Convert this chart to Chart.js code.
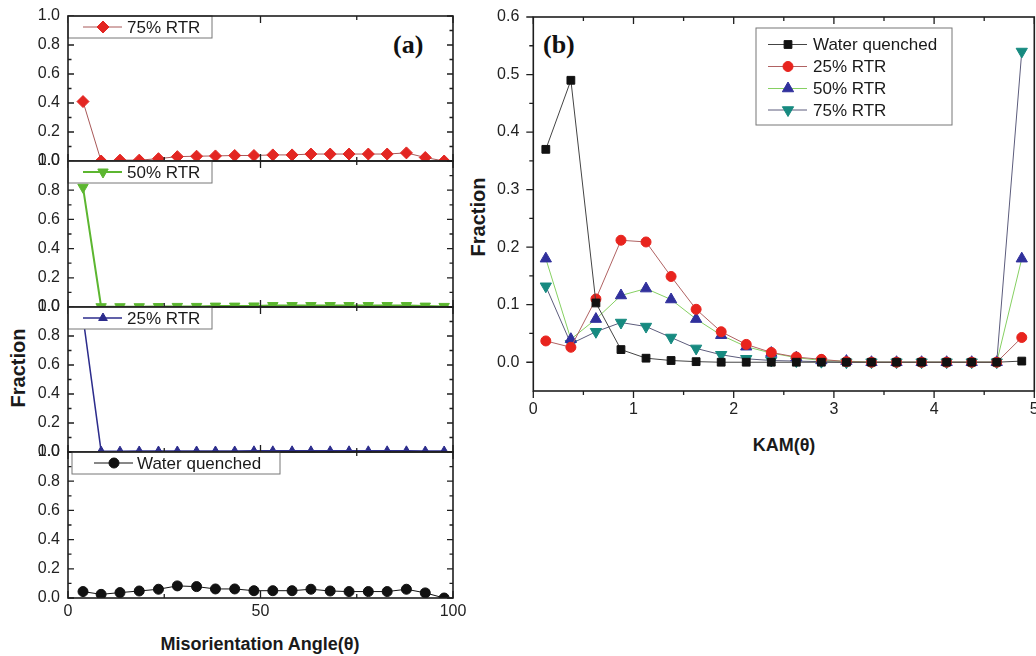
<!DOCTYPE html>
<html><head><meta charset="utf-8">
<script src="https://cdn.jsdelivr.net/npm/chart.js@4.4.1/dist/chart.umd.min.js"></script>
<style>
html,body{margin:0;padding:0;background:#fff;width:1036px;height:656px;overflow:hidden;position:relative;font-family:"Liberation Sans",Arial,sans-serif}
canvas{position:absolute}
.t{position:absolute;white-space:nowrap;color:#1a1a1a;font-weight:bold;transform:translate(-50%,-50%);line-height:1}
.r{transform:translate(-50%,-50%) rotate(-90deg)}
.p{position:absolute;white-space:nowrap;color:#111;font-weight:bold;font-family:"Liberation Serif","Times New Roman",serif;font-size:26px;line-height:1;transform:translateY(-50%)}
</style></head><body>
<div class="t r" style="left:18px;top:368px;font-size:20px">Fraction</div>
<div class="t" style="left:260px;top:644px;font-size:18px">Misorientation Angle(θ)</div>
<div class="t r" style="left:478px;top:217px;font-size:20px">Fraction</div>
<div class="t" style="left:784px;top:445px;font-size:18px">KAM(θ)</div>
<div class="p" style="left:393px;top:45px">(a)</div>
<div class="p" style="left:543px;top:45px">(b)</div>
<script>
// ---------------- DATA ----------------
// Panel (a): misorientation angle distribution
const misoAngle = [3.9, 8.6, 13.5, 18.5, 23.5, 28.4, 33.4, 38.3, 43.3, 48.3, 53.2, 58.2, 63.1, 68.1, 73.0, 78.0, 82.9, 87.9, 92.8, 97.7];
const misoRTR75 = [0.41, 0.0, 0.006, 0.006, 0.016, 0.03, 0.033, 0.035, 0.038, 0.038, 0.042, 0.042, 0.048, 0.048, 0.048, 0.048, 0.048, 0.056, 0.024, 0.0];
const misoRTR50 = [0.82, 0.002, 0.002, 0.002, 0.003, 0.004, 0.004, 0.006, 0.006, 0.007, 0.01, 0.01, 0.01, 0.01, 0.01, 0.01, 0.01, 0.01, 0.006, 0.004];
const misoRTR25 = [0.93, 0.006, 0.006, 0.007, 0.007, 0.007, 0.007, 0.007, 0.007, 0.008, 0.008, 0.008, 0.008, 0.008, 0.008, 0.008, 0.008, 0.008, 0.007, 0.007];
const misoWQ    = [0.044, 0.025, 0.037, 0.048, 0.06, 0.083, 0.078, 0.062, 0.062, 0.05, 0.05, 0.05, 0.06, 0.048, 0.044, 0.044, 0.044, 0.06, 0.035, 0.0];
const misoXTicks = [0, 50, 100];
const misoYTicks = [0, 0.2, 0.4, 0.6, 0.8, 1.0];
const misoLabels = ['75% RTR', '50% RTR', '25% RTR', 'Water quenched'];

// Panel (b): KAM distribution
const kam      = [0.125, 0.375, 0.625, 0.875, 1.125, 1.375, 1.625, 1.875, 2.125, 2.375, 2.625, 2.875, 3.125, 3.375, 3.625, 3.875, 4.125, 4.375, 4.625, 4.875];
const kamWQ    = [0.37, 0.49, 0.103, 0.022, 0.007, 0.003, 0.001, 0, 0, 0, 0, 0, 0, 0, 0, 0, 0, 0, 0, 0.002];
const kamRTR25 = [0.037, 0.026, 0.11, 0.212, 0.209, 0.149, 0.092, 0.053, 0.031, 0.017, 0.009, 0.005, 0.001, 0, 0, 0, 0, 0, 0, 0.043];
const kamRTR50 = [0.18, 0.04, 0.075, 0.116, 0.128, 0.109, 0.075, 0.047, 0.027, 0.016, 0.008, 0.003, 0.002, 0, 0, 0, 0, 0, 0, 0.18];
const kamRTR75 = [0.132, 0.032, 0.053, 0.069, 0.062, 0.043, 0.024, 0.013, 0.006, 0.003, 0.002, 0.001, 0, 0, 0, 0, 0, 0, 0, 0.54];
const kamXTicks = [0, 1, 2, 3, 4, 5];
const kamYTicks = [0, 0.1, 0.2, 0.3, 0.4, 0.5, 0.6];
const kamLabels = ['Water quenched', '25% RTR', '50% RTR', '75% RTR'];

// ---------------- HELPERS ----------------
const FONT = '"Liberation Sans", Arial, sans-serif';
Chart.defaults.font.family = FONT;
Chart.defaults.color = '#222';

const pts = (xs, ys) => xs.map((x, i) => ({x: x, y: ys[i]}));

// tick marks (major + minor), drawn right after the datasets
const tickMarks = {
  id: 'tickMarks',
  afterDatasetsDraw(chart, args, o) {
    const ctx = chart.ctx, a = chart.chartArea;
    const xs = chart.scales.x, ys = chart.scales.y;
    const mids = v => v.slice(1).map((t, i) => (t + v[i]) / 2);
    ctx.save();
    ctx.strokeStyle = '#1e1e1e';
    ctx.lineWidth = 1.3;
    ctx.beginPath();
    Object.keys(o.sides).forEach(side => {
      const s = o.sides[side];
      const horiz = side === 'top' || side === 'bottom';
      const vals = horiz ? o.xTicks : o.yTicks;
      const sc = horiz ? xs : ys;
      const all = vals.map(v => [v, s.major]).concat(mids(vals).map(v => [v, s.minor]));
      all.forEach(([v, len]) => {
        const p = sc.getPixelForValue(v);
        const L = len * s.dir;
        if (side === 'left') { ctx.moveTo(a.left, p); ctx.lineTo(a.left + L, p); }
        if (side === 'right') { ctx.moveTo(a.right, p); ctx.lineTo(a.right - L, p); }
        if (side === 'top') { ctx.moveTo(p, a.top); ctx.lineTo(p, a.top + L); }
        if (side === 'bottom') { ctx.moveTo(p, a.bottom); ctx.lineTo(p, a.bottom - L); }
      });
    });
    ctx.stroke();
    ctx.restore();
  }
};

// plot frame, drawn last
const frameBox = {
  id: 'frameBox',
  afterDraw(chart) {
    const ctx = chart.ctx, a = chart.chartArea;
    ctx.save();
    ctx.strokeStyle = '#1e1e1e';
    ctx.lineWidth = 1.6;
    ctx.strokeRect(a.left, a.top, a.right - a.left, a.bottom - a.top);
    ctx.restore();
  }
};

const boxLegend = {
  id: 'boxLegend',
  afterDraw(chart, args, o) {
    if (!o || !o.items) return;
    const ctx = chart.ctx;
    ctx.save();
    ctx.translate(-o.off[0], -o.off[1]);
    ctx.fillStyle = '#fff';
    ctx.fillRect(o.x, o.y, o.w, o.h);
    ctx.strokeStyle = '#777';
    ctx.lineWidth = 1;
    ctx.strokeRect(o.x, o.y, o.w, o.h);
    ctx.font = '17px ' + FONT;
    ctx.textBaseline = 'middle';
    o.items.forEach((dsIndex, k) => {
      const ds = chart.data.datasets[dsIndex];
      const y = o.rowY[k];
      ctx.strokeStyle = ds.borderColor;
      ctx.lineWidth = ds.borderWidth;
      ctx.beginPath(); ctx.moveTo(o.lineX0, y); ctx.lineTo(o.lineX1, y); ctx.stroke();
      ctx.fillStyle = ds.pointBackgroundColor;
      ctx.strokeStyle = ds.pointBorderColor;
      ctx.lineWidth = 1;
      Chart.helpers.drawPoint(ctx, {pointStyle: ds.pointStyle, radius: ds.pointRadius, rotation: ds.pointRotation || 0, borderWidth: 1}, o.markX, y);
      ctx.fillStyle = '#1a1a1a';
      ctx.fillText(ds.label, o.textX, y + 1);
    });
    ctx.restore();
  }
};

function makeCanvas(left, top, w, h) {
  const c = document.createElement('canvas');
  c.width = w; c.height = h;
  c.style.left = left + 'px'; c.style.top = top + 'px';
  c.style.width = w + 'px'; c.style.height = h + 'px';
  document.body.appendChild(c);
  return c;
}

// ---------------- PANEL (a) ----------------
const leftSeries = [misoRTR75, misoRTR50, misoRTR25, misoWQ];
const leftStyle = [
  {ps: 'rectRot', rot: 0, r: 6, mc: '#e32622', lc: '#a85858', lw: 1},
  {ps: 'triangle', rot: 180, r: 6, mc: '#5cb630', lc: '#5cb630', lw: 2},
  {ps: 'triangle', rot: 0, r: 5, mc: '#2c2c8c', lc: '#2c2c8c', lw: 1.5},
  {ps: 'circle', rot: 0, r: 5, mc: '#111', lc: '#111', lw: 1}
];
const leftTops = [16, 161, 307, 452, 598];
const leftLegend = [
  {x: 68, y: 16, w: 144, h: 22, lineX0: 83, lineX1: 122, markX: 103, textX: 127},
  {x: 68, y: 161, w: 144, h: 22, lineX0: 83, lineX1: 122, markX: 103, textX: 127},
  {x: 68, y: 307, w: 144, h: 22, lineX0: 83, lineX1: 122, markX: 103, textX: 127},
  {x: 72, y: 452, w: 208, h: 22, lineX0: 94, lineX1: 133, markX: 114, textX: 137}
];

leftSeries.forEach((ser, i) => {
  const st = leftStyle[i];
  const bottom = i === 3;
  const T = leftTops[i], H = leftTops[i + 1] - T;
  const padT = 20;
  const ch = bottom ? H + padT + 42 : H + 2 * padT;
  const oy = T - padT;
  const canvas = makeCanvas(0, oy, 480, ch);
  const lg = leftLegend[i];
  new Chart(canvas, {
    type: 'line',
    data: {datasets: [{
      label: misoLabels[i], data: pts(misoAngle, ser),
      borderColor: st.lc, borderWidth: st.lw,
      pointStyle: st.ps, pointRotation: st.rot, pointRadius: st.r,
      pointBackgroundColor: st.mc, pointBorderColor: st.mc, pointBorderWidth: 1,
      tension: 0, clip: 0
    }]},
    options: {
      responsive: false, animation: false, devicePixelRatio: 1,
      layout: {padding: {left: 0, right: 27, top: padT, bottom: bottom ? 12 : padT}},
      plugins: {
        legend: {display: false}, tooltip: {enabled: false},
        tickMarks: {xTicks: misoXTicks, yTicks: misoYTicks, sides: {
          left: {major: 6, minor: 3.5, dir: 1}, right: {major: 6, minor: 3.5, dir: 1},
          top: {major: 7, minor: 4, dir: 1}, bottom: {major: 7, minor: 4, dir: 1}}},
        boxLegend: Object.assign({off: [0, oy], items: [0], rowY: [lg.y + lg.h / 2]}, lg)
      },
      scales: {
        x: {type: 'linear', min: 0, max: 100, display: bottom,
          afterBuildTicks: s => { s.ticks = misoXTicks.map(v => ({value: v})); },
          afterFit: s => { s.height = bottom ? 30 : 0; },
          grid: {display: false, drawTicks: false}, border: {display: false},
          ticks: {font: {size: 16}, color: '#222', padding: 4, maxRotation: 0, autoSkip: false}},
        y: {type: 'linear', min: 0, max: 1,
          afterBuildTicks: s => { s.ticks = misoYTicks.map(v => ({value: v})); },
          afterFit: s => { s.width = 68; },
          grid: {display: false, drawTicks: false}, border: {display: false},
          ticks: {font: {size: 16}, color: '#222', padding: 8, autoSkip: false, callback: v => Number(v).toFixed(1)}}
      }
    },
    plugins: [tickMarks, boxLegend, frameBox]
  });
});

// ---------------- PANEL (b) ----------------
const rightSeries = [kamWQ, kamRTR25, kamRTR50, kamRTR75];
const rightStyle = [
  {ps: 'rect', rot: 0, r: 5.5, mc: '#111', lc: '#444', lw: 1},
  {ps: 'circle', rot: 0, r: 5, mc: '#e8241e', lc: '#b06262', lw: 1},
  {ps: 'triangle', rot: 0, r: 6.5, mc: '#30309c', lc: '#86d062', lw: 1},
  {ps: 'triangle', rot: 180, r: 6.5, mc: '#178a80', lc: '#5c5c7c', lw: 1}
];
const rOy = -13;
const rc = makeCanvas(470, rOy, 600, 443);
new Chart(rc, {
  type: 'line',
  data: {datasets: rightSeries.map((ser, i) => ({
    label: kamLabels[i], data: pts(kam, ser),
    borderColor: rightStyle[i].lc, borderWidth: rightStyle[i].lw,
    pointStyle: rightStyle[i].ps, pointRotation: rightStyle[i].rot, pointRadius: rightStyle[i].r,
    pointBackgroundColor: rightStyle[i].mc, pointBorderColor: rightStyle[i].mc, pointBorderWidth: 1,
    tension: 0
  }))},
  options: {
    responsive: false, animation: false, devicePixelRatio: 1,
    layout: {padding: {left: 0, right: 35.7, top: 30, bottom: 9}},
    plugins: {
      legend: {display: false}, tooltip: {enabled: false},
      tickMarks: {xTicks: kamXTicks, yTicks: kamYTicks, sides: {
        left: {major: 7, minor: 4, dir: -1},
        top: {major: 7, minor: 4, dir: 1}, bottom: {major: 7, minor: 4, dir: -1}}},
      boxLegend: {off: [470, rOy], x: 756, y: 28, w: 196, h: 97, items: [0, 1, 2, 3],
        rowY: [44.5, 66.5, 88.5, 110], lineX0: 768, lineX1: 807, markX: 788, textX: 813}
    },
    scales: {
      x: {type: 'linear', min: 0, max: 5,
        afterBuildTicks: s => { s.ticks = kamXTicks.map(v => ({value: v})); },
        afterFit: s => { s.height = 30; },
        grid: {display: false, drawTicks: false}, border: {display: false},
        ticks: {font: {size: 16}, color: '#222', padding: 9, maxRotation: 0, autoSkip: false}},
      y: {type: 'linear', min: -0.05, max: 0.6,
        afterBuildTicks: s => { s.ticks = kamYTicks.map(v => ({value: v})); },
        afterFit: s => { s.width = 63.3; },
        grid: {display: false, drawTicks: false}, border: {display: false},
        ticks: {font: {size: 16}, color: '#222', padding: 14, autoSkip: false, callback: v => Number(v).toFixed(1)}}
    }
  },
  plugins: [tickMarks, boxLegend, frameBox]
});
</script>
</body></html>
